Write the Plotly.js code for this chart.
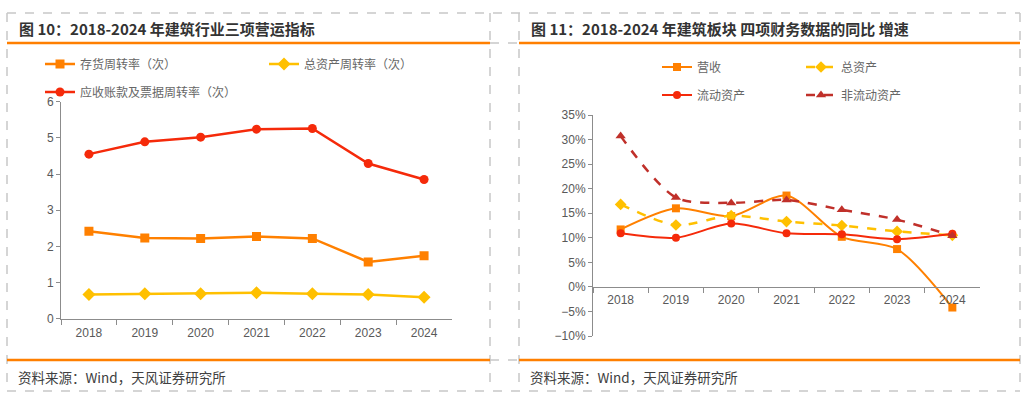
<!DOCTYPE html>
<html>
<head>
<meta charset="utf-8">
<script src="https://cdn.plot.ly/plotly-3.0.1.min.js"></script>
<style>
  html, body { margin: 0; padding: 0; background: #ffffff; }
  #chart { width: 1026px; height: 396px; }
</style>
</head>
<body>
<div id="chart"></div>
<script>
// ---- Data ----
const years = ['2018', '2019', '2020', '2021', '2022', '2023', '2024'];

// Figure 10: turnover ratios (times)
const inventoryTurnover  = [2.42, 2.23, 2.22, 2.27, 2.22, 1.57, 1.74];
const assetTurnover      = [0.67, 0.69, 0.69, 0.72, 0.69, 0.67, 0.59];
const receivableTurnover = [4.55, 4.89, 5.02, 5.24, 5.26, 4.29, 3.85];

// Figure 11: YoY growth (%)
const revenueGrowth         = [11.7, 16.0, 14.4, 18.6, 10.2, 7.7, -4.2];
const totalAssetGrowth      = [16.8, 12.6, 14.5, 13.3, 12.5, 11.3, 10.5];
const currentAssetGrowth    = [10.9, 10.0, 12.9, 10.9, 10.7, 9.7, 10.8];
const nonCurrentAssetGrowth = [30.7, 18.2, 17.1, 17.7, 15.7, 13.7, 10.4];

const leftNames  = ['存货周转率（次）', '总资产周转率（次）', '应收账款及票据周转率（次）'];
const rightNames = ['营收', '总资产', '流动资产', '非流动资产'];
const leftTitle  = '图 10：2018-2024 年建筑行业三项营运指标';
const rightTitle = '图 11：2018-2024 年建筑板块 四项财务数据的同比 增速';
const sourceText = '资料来源：Wind，天风证券研究所';

// ---- Styling ----
const W = 1026, H = 396;
const px = x => x / W;
const py = y => 1 - y / H;

const ORANGE = '#FF8000';
const YELLOW = '#FFC000';
const RED    = '#F52A0A';
const DARKRED = '#C0302A';
const ACCENT = '#FF7F00';
const GRID_DASH = '#C8C8C8';
const AXIS = '#8C8C8C';
const TICKF = { family: 'Liberation Sans, Arial, sans-serif', size: 12, color: '#595959' };
const CJK = 'Noto Sans CJK SC, sans-serif';

const traces = [
  { x: years, y: inventoryTurnover, name: leftNames[0], type: 'scatter', mode: 'lines+markers',
    xaxis: 'x', yaxis: 'y', legend: 'legend',
    line: { color: ORANGE, width: 2.5 }, marker: { symbol: 'square', size: 9, color: ORANGE } },
  { x: years, y: assetTurnover, name: leftNames[1], type: 'scatter', mode: 'lines+markers',
    xaxis: 'x', yaxis: 'y', legend: 'legend2',
    line: { color: YELLOW, width: 2.5 }, marker: { symbol: 'diamond', size: 10, color: YELLOW } },
  { x: years, y: receivableTurnover, name: leftNames[2], type: 'scatter', mode: 'lines+markers',
    xaxis: 'x', yaxis: 'y', legend: 'legend3',
    line: { color: RED, width: 2.5 }, marker: { symbol: 'circle', size: 9, color: RED } },

  { x: years, y: revenueGrowth, name: rightNames[0], type: 'scatter', mode: 'lines+markers',
    xaxis: 'x2', yaxis: 'y2', legend: 'legend4',
    line: { color: ORANGE, width: 2, shape: 'spline', smoothing: 0.8 }, marker: { symbol: 'square', size: 8, color: ORANGE } },
  { x: years, y: totalAssetGrowth, name: rightNames[1], type: 'scatter', mode: 'lines+markers',
    xaxis: 'x2', yaxis: 'y2', legend: 'legend5',
    line: { color: YELLOW, width: 2.5, dash: 'dash', shape: 'spline', smoothing: 0.8 }, marker: { symbol: 'diamond', size: 9, color: YELLOW } },
  { x: years, y: currentAssetGrowth, name: rightNames[2], type: 'scatter', mode: 'lines+markers',
    xaxis: 'x2', yaxis: 'y2', legend: 'legend6',
    line: { color: RED, width: 2, shape: 'spline', smoothing: 0.8 }, marker: { symbol: 'circle', size: 8, color: RED } },
  { x: years, y: nonCurrentAssetGrowth, name: rightNames[3], type: 'scatter', mode: 'lines+markers',
    xaxis: 'x2', yaxis: 'y2', legend: 'legend7',
    line: { color: DARKRED, width: 2.5, dash: 'dash', shape: 'spline', smoothing: 0.8 }, marker: { symbol: 'triangle-up', size: 9, color: DARKRED } }
];

// ---- Axes geometry (pixel-based) ----
const leftY0 = 318.7, leftY1 = 101.7;
const rightY0 = 336, rightY1 = 115;
const rightRange = [-10, 35];
const rDom = [py(rightY0), py(rightY1)];
const zeroPos = rDom[0] + (0 - rightRange[0]) / (rightRange[1] - rightRange[0]) * (rDom[1] - rDom[0]);

function legendAt(xPix, yPix) {
  return {
    x: px(xPix), y: py(yPix), xanchor: 'left', yanchor: 'middle',
    bgcolor: 'rgba(0,0,0,0)', borderwidth: 0, itemwidth: 30,
    font: { family: CJK, size: 12, color: '#666666' }
  };
}

// ---- Frame shapes ----
const shapes = [];
function dashLine(x0, y0, x1, y1) {
  shapes.push({ type: 'line', xref: 'paper', yref: 'paper', x0: px(x0), y0: py(y0), x1: px(x1), y1: py(y1),
    line: { color: GRID_DASH, width: 1.5, dash: 'dash' } });
}
function solidLine(x0, y0, x1, y1) {
  shapes.push({ type: 'line', xref: 'paper', yref: 'paper', x0: px(x0), y0: py(y0), x1: px(x1), y1: py(y1),
    line: { color: ACCENT, width: 2.5 } });
}
dashLine(7, 13, 1020, 13);
dashLine(7, 391, 1020, 391);
dashLine(7, 13, 7, 391);
dashLine(490, 13, 490, 391);
dashLine(519, 13, 519, 391);
dashLine(1020, 13, 1020, 391);
dashLine(490, 43, 519, 43);
dashLine(490, 360, 519, 360);
solidLine(7, 43, 490, 43);
solidLine(519, 43, 1020, 43);
solidLine(7, 360, 490, 360);
solidLine(519, 360, 1020, 360);

const titleFont = { family: CJK, size: 15, color: '#333333' };
const srcFont = { family: CJK, size: 13.5, color: '#404040' };

const annotations = [
  { text: '<b>' + leftTitle + '</b>', xref: 'paper', yref: 'paper', x: px(17), y: py(28), xanchor: 'left', yanchor: 'middle', showarrow: false, font: titleFont },
  { text: '<b>' + rightTitle + '</b>', xref: 'paper', yref: 'paper', x: px(529), y: py(28), xanchor: 'left', yanchor: 'middle', showarrow: false, font: titleFont },
  { text: sourceText, xref: 'paper', yref: 'paper', x: px(16), y: py(377), xanchor: 'left', yanchor: 'middle', showarrow: false, font: srcFont },
  { text: sourceText, xref: 'paper', yref: 'paper', x: px(528), y: py(377), xanchor: 'left', yanchor: 'middle', showarrow: false, font: srcFont }
];

const layout = {
  width: W, height: H,
  margin: { l: 0, r: 0, t: 0, b: 0 },
  paper_bgcolor: '#ffffff', plot_bgcolor: '#ffffff',
  showlegend: true,
  xaxis: {
    domain: [px(61), px(452)], anchor: 'y', type: 'category', range: [-0.5, 6.5],
    showline: true, linecolor: AXIS, linewidth: 1, showgrid: false, zeroline: false,
    ticks: 'outside', tickson: 'boundaries', ticklen: 5, tickcolor: AXIS,
    ticklabelstandoff: 3, tickfont: TICKF, fixedrange: true
  },
  yaxis: {
    domain: [py(leftY0), py(leftY1)], anchor: 'x', range: [0, 6], dtick: 1,
    showline: true, linecolor: AXIS, linewidth: 1, showgrid: false, zeroline: false,
    ticks: 'outside', ticklen: 4, tickcolor: AXIS, tickfont: TICKF, fixedrange: true
  },
  xaxis2: {
    domain: [px(593), px(980)], anchor: 'free', position: zeroPos, type: 'category', range: [-0.5, 6.5],
    showline: true, linecolor: AXIS, linewidth: 1, showgrid: false, zeroline: false,
    ticks: 'outside', tickson: 'boundaries', ticklen: 5, tickcolor: AXIS,
    ticklabelstandoff: 2, tickfont: TICKF, fixedrange: true
  },
  yaxis2: {
    domain: rDom, anchor: 'x2', range: rightRange, dtick: 5, ticksuffix: '%',
    showline: true, linecolor: AXIS, linewidth: 1, showgrid: false, zeroline: false,
    ticks: 'outside', ticklen: 4, tickcolor: AXIS, tickfont: TICKF, fixedrange: true
  },
  legend:  legendAt(40, 64),
  legend2: legendAt(264, 64),
  legend3: legendAt(40, 92),
  legend4: legendAt(657, 67),
  legend5: legendAt(801, 67),
  legend6: legendAt(657, 95),
  legend7: legendAt(801, 95),
  shapes: shapes,
  annotations: annotations
};

Plotly.newPlot('chart', traces, layout, { displayModeBar: false, staticPlot: true });
</script>
</body>
</html>
